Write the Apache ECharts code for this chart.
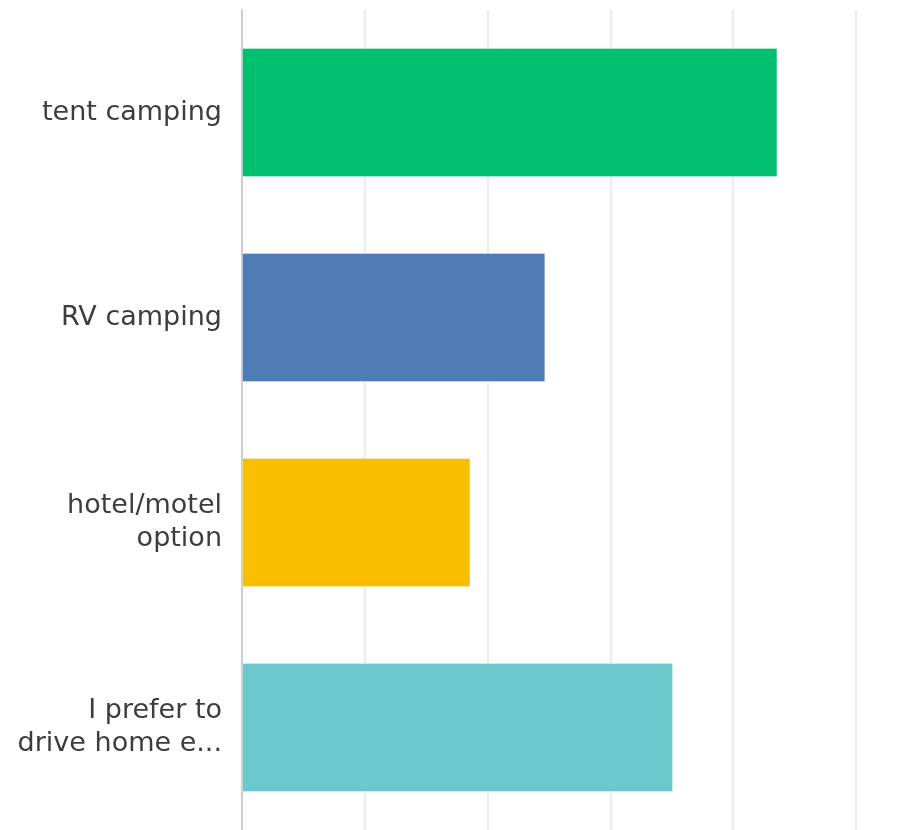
<!DOCTYPE html>
<html>
<head>
<meta charset="utf-8">
<script src="https://cdn.jsdelivr.net/npm/echarts@6/dist/echarts.min.js"></script>
<style>
html,body{margin:0;padding:0;background:#fff;}
#chart{width:921px;height:830px;}
</style>
</head>
<body>
<div id="chart"></div>
<script>
var categories = ["tent camping", "RV camping", "hotel/motel\noption", "I prefer to\ndrive home e..."];
var values = [43.6, 24.7, 18.6, 35.1];
var colors = ["#00bf6f", "#507cb6", "#f9be00", "#6bc8cd"];

var chart = echarts.init(document.getElementById('chart'));
chart.setOption({
  animation: false,
  grid: {left: 242, right: 65, top: 10, height: 822},
  xAxis: {
    type: 'value', min: 0, max: 50, interval: 10,
    axisLabel: {show: false},
    axisLine: {show: false},
    axisTick: {show: false},
    splitLine: {show: true, lineStyle: {color: '#ebebeb', width: 2}}
  },
  yAxis: {
    type: 'category', inverse: true, data: categories,
    axisTick: {show: false},
    axisLine: {show: true, lineStyle: {color: '#cccccc', width: 2}},
    axisLabel: {
      margin: 20, color: '#3d3d3d', fontSize: 27, lineHeight: 33,
      fontFamily: 'DejaVu Sans', align: 'right'
    }
  },
  series: [{
    type: 'bar', barWidth: '63%',
    data: values.map(function(v, i){ return {value: v, itemStyle: {color: colors[i]}}; }),
    itemStyle: {borderColor: 'rgba(255,255,255,0.35)', borderWidth: 1}
  }]
});
</script>
</body>
</html>
